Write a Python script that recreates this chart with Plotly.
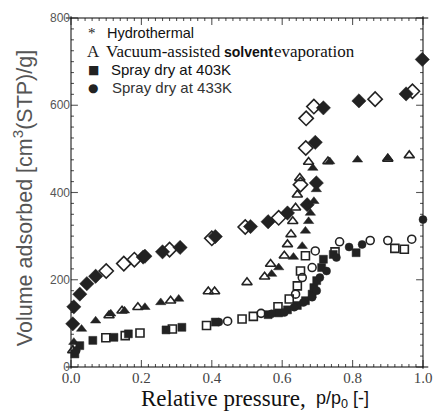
import plotly.graph_objects as go

# ---- data ----
hydro_ads_p = [0.005, 0.008, 0.025, 0.045, 0.07, 0.205, 0.21, 0.26, 0.31, 0.41, 0.51, 0.56, 0.615, 0.671, 0.697, 0.694, 0.717, 0.818, 0.952, 0.998]
hydro_ads_v = [99, 138, 167, 191, 208, 252, 254, 264, 274, 299, 322, 333, 353, 372, 422, 515, 594, 610, 626, 705]
hydro_des_p = [0.10, 0.15, 0.18, 0.28, 0.40, 0.495, 0.59, 0.652, 0.667, 0.668, 0.69, 0.864, 0.97]
hydro_des_v = [220, 237, 246, 269, 295, 321, 342, 418, 502, 570, 597, 614, 632]

vac_ads_p = [0.008, 0.03, 0.07, 0.113, 0.152, 0.21, 0.255, 0.306, 0.57, 0.59, 0.632, 0.657, 0.666, 0.675, 0.68, 0.69, 0.697, 0.687, 0.735, 0.814, 0.90]
vac_ads_v = [57, 87, 106, 122, 129, 137, 148, 156, 213, 228, 252, 277, 312, 334, 353, 380, 407, 456, 471, 475, 479]
vac_des_p = [0.005, 0.108, 0.145, 0.19, 0.283, 0.39, 0.408, 0.50, 0.55, 0.567, 0.606, 0.615, 0.625, 0.63, 0.638, 0.643, 0.65, 0.675, 0.73, 0.90, 0.961]
vac_des_v = [38, 118, 129, 137, 152, 173, 173, 194, 207, 236, 255, 281, 304, 334, 365, 395, 433, 470, 471, 477, 485]

s403_ads_p = [0.011, 0.025, 0.062, 0.122, 0.163, 0.27, 0.315, 0.41, 0.56, 0.59, 0.615, 0.643, 0.666, 0.685, 0.69, 0.698, 0.712, 0.717, 0.745, 0.81]
s403_ads_v = [30, 49, 61, 68, 76, 85, 91, 103, 120, 124, 131, 141, 152, 167, 182, 198, 228, 247, 258, 262]
s403_des_p = [0.099, 0.154, 0.196, 0.288, 0.385, 0.486, 0.518, 0.588, 0.62, 0.643, 0.652, 0.666, 0.75, 0.92, 0.947]
s403_des_v = [67, 72, 78, 87, 95, 110, 116, 138, 156, 186, 220, 255, 264, 272, 270]

s433_ads_p = [0.015, 0.42, 0.57, 0.606, 0.634, 0.66, 0.685, 0.698, 0.707, 0.726, 0.754, 0.79, 0.827, 1.0]
s433_ads_v = [38, 103, 122, 125, 137, 148, 160, 175, 205, 220, 251, 275, 281, 338]
s433_des_p = [0.445, 0.54, 0.638, 0.657, 0.685, 0.694, 0.763, 0.85, 0.90, 0.968]
s433_des_v = [105, 123, 167, 205, 228, 266, 287, 290, 290, 293]

x_major = [0.0, 0.2, 0.4, 0.6, 0.8, 1.0]
y_major = [0, 200, 400, 600, 800]
x_minor_step = 0.02
y_minor_step = 25

legend_symbols = ["*", "A", "\u25a0", "\u25cf"]
legend_labels = [
    "Hydrothermal",
    "Vacuum-assisted",
    "Spray dry at 403K",
    "Spray dry at 433K",
]
legend_extra = ["solvent", "evaporation"]
x_title_parts = ["Relative pressure,", "p/p<sub>0</sub> [-]"]
y_title = "Volume adsorbed [cm<sup>3</sup>(STP)/g]"

INK = "#222222"
AX = "#111111"
X0, X1 = x_major[0], x_major[-1]
Y0, Y1 = y_major[0], y_major[-1]
PH, PW = 351.0, 361.0  # plot area size in px
XU = (X1 - X0) / PW    # x units per px
YU = (Y1 - Y0) / PH    # y units per px
LINE_K = 1.4           # plotly line-ew / line-ns markers are 1.4 x size long
fig = go.Figure()

# ---- frame drawn with line-shaped markers spanning each side ----
fig.add_trace(go.Scatter(
    x=[(X0 + X1) / 2, (X0 + X1) / 2, X0, X1],
    y=[Y0, Y1, (Y0 + Y1) / 2, (Y0 + Y1) / 2],
    mode="markers", showlegend=False, hoverinfo="skip", cliponaxis=False,
    marker=dict(symbol=["line-ew", "line-ew", "line-ns", "line-ns"],
                size=[(PW + 1.5) / LINE_K, (PW + 1.5) / LINE_K,
                      (PH + 1.5) / LINE_K, (PH + 1.5) / LINE_K],
                color=AX, line=dict(color=AX, width=1.5))))

# ---- inside tick marks (major 7 px, minor 3 px) on all four sides ----
def ticks_along(major, step, lo, hi):
    vals, lens = [], []
    n = int(round((hi - lo) / step))
    for k in range(n + 1):
        v = lo + k * step
        vals.append(v)
        lens.append(7 if any(abs(v - m) < 1e-9 for m in major) else 3)
    return vals, lens

xv, xl = ticks_along(x_major, x_minor_step, X0, X1)
tx, ty, ts = [], [], []
for v, ln in zip(xv, xl):
    tx += [v, v]
    ty += [Y0 + ln / 2 * YU, Y1 - ln / 2 * YU]
    ts += [ln / LINE_K, ln / LINE_K]
fig.add_trace(go.Scatter(x=tx, y=ty, mode="markers", showlegend=False, hoverinfo="skip",
                         cliponaxis=False,
                         marker=dict(symbol="line-ns", size=ts, color=AX, line=dict(color=AX, width=1.1))))
yv, yl = ticks_along(y_major, y_minor_step, Y0, Y1)
tx, ty, ts = [], [], []
for v, ln in zip(yv, yl):
    ty += [v, v]
    tx += [X0 + ln / 2 * XU, X1 - ln / 2 * XU]
    ts += [ln / LINE_K, ln / LINE_K]
fig.add_trace(go.Scatter(x=tx, y=ty, mode="markers", showlegend=False, hoverinfo="skip",
                         cliponaxis=False,
                         marker=dict(symbol="line-ew", size=ts, color=AX, line=dict(color=AX, width=1.1))))

def add(px, py, sym, size, filled):
    fig.add_trace(go.Scatter(
        x=px, y=py, mode="markers", showlegend=False, cliponaxis=False,
        marker=dict(symbol=sym if filled else sym + "-open", size=size,
                    color=INK, line=dict(color=INK, width=1.6 if not filled else 0.5)),
    ))

add(hydro_des_p, hydro_des_v, "diamond", 11, False)
add(hydro_ads_p, hydro_ads_v, "diamond", 11, True)
add(vac_des_p, vac_des_v, "triangle-up", 9, False)
add(vac_ads_p, vac_ads_v, "triangle-up", 9, True)
add(s403_des_p, s403_des_v, "square", 8, False)
add(s403_ads_p, s403_ads_v, "square", 8, True)
add(s433_des_p, s433_des_v, "circle", 8, False)
add(s433_ads_p, s433_ads_v, "circle", 8, True)

SERIF = "Liberation Serif, Times New Roman, serif"
SANS = "Liberation Sans, Arial, sans-serif"

def px_ann(xp, yp, text, font, xanchor="left", angle=0):
    fig.add_annotation(xref="paper", yref="paper",
                       x=(xp - 71) / PW, y=(367 - yp) / PH,
                       text=text, showarrow=False, xanchor=xanchor, yanchor="middle",
                       textangle=angle, font=font)

# legend drawn as text
sym_fonts = [dict(family=SERIF, size=15, color=INK),
             dict(family=SERIF, size=17, color=INK),
             dict(family="DejaVu Sans", size=12, color=INK),
             dict(family="DejaVu Sans", size=12, color=INK)]
label_fonts = [dict(family=SANS, size=14.5, color="#111"),
               dict(family=SERIF, size=17, color="#111"),
               dict(family=SANS, size=15, color="#111"),
               dict(family=SANS, size=15, color="#333")]
label_x = [106, 105, 110, 111]
sym_x = [86, 85, 86, 86]
rows_y = [31, 50, 68, 86]
for i in range(4):
    px_ann(sym_x[i], rows_y[i], legend_symbols[i], sym_fonts[i])
    px_ann(label_x[i], rows_y[i], legend_labels[i], label_fonts[i])
px_ann(226, 50, "<b>" + legend_extra[0] + "</b>", dict(family=SANS, size=14, color="#111"))
px_ann(277, 50, legend_extra[1], dict(family=SERIF, size=17, color="#111"))

# axis titles as annotations
px_ann(141, 399, x_title_parts[0], dict(family=SERIF, size=23, color="#111"))
px_ann(320, 400, x_title_parts[1], dict(family=SANS, size=18, color="#111"))
px_ann(22, 197, y_title, dict(family=SANS, size=21.5, color="#555"), xanchor="center", angle=-90)

fig.update_layout(
    width=443, height=414,
    margin=dict(l=71, r=11, t=16, b=47),
    paper_bgcolor="white", plot_bgcolor="white",
    xaxis=dict(range=[X0, X1], tickmode="array", tickvals=x_major,
               ticktext=["%.1f" % v for v in x_major],
               tickfont=dict(family=SERIF, size=15, color="#444"),
               showline=False, ticks="", showgrid=False, zeroline=False),
    yaxis=dict(range=[Y0, Y1], tickmode="array", tickvals=y_major,
               ticktext=[str(v) for v in y_major],
               tickfont=dict(family=SANS, size=12, color="#555"),
               showline=False, ticks="", showgrid=False, zeroline=False),
)

fig.write_html("out.html")
